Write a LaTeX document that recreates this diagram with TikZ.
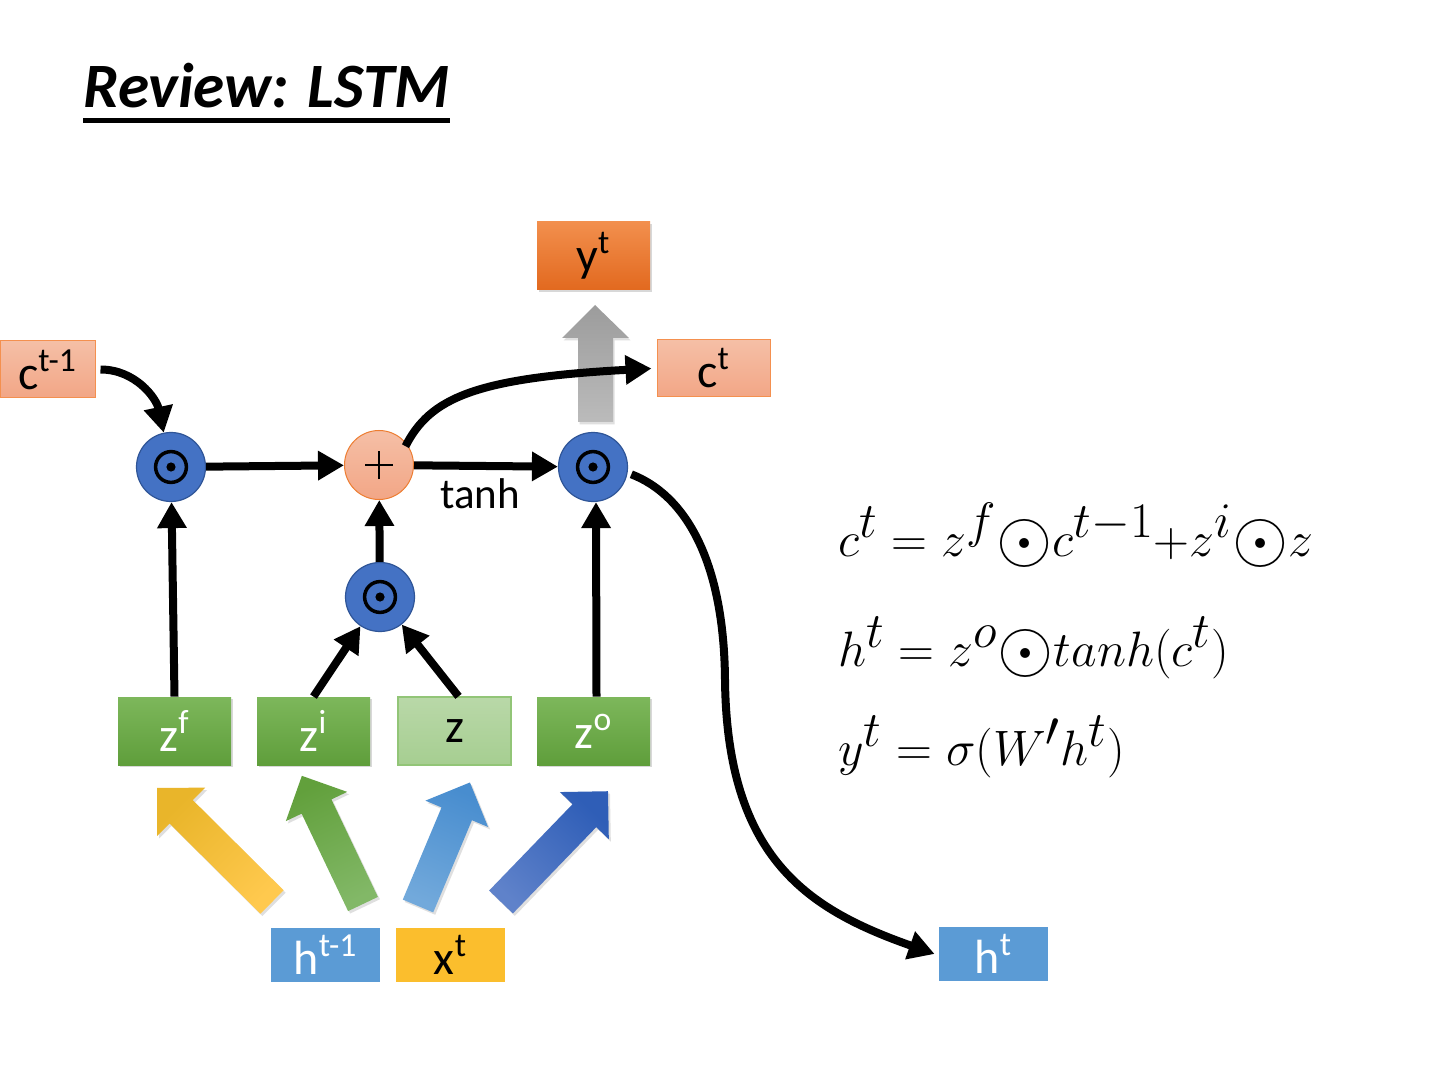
\documentclass[tikz,border=0pt]{standalone}
\usepackage{fontspec}
\setmainfont{Carlito}
\usetikzlibrary{arrows.meta,shadows,calc}
\definecolor{gTop}{HTML}{7DB75B}
\definecolor{gBot}{HTML}{5F9E3B}
\definecolor{zTop}{HTML}{B9D8A8}
\definecolor{zBot}{HTML}{A6CE91}
\definecolor{zBord}{HTML}{92C577}
\definecolor{sTop}{HTML}{F5BFA6}
\definecolor{sBot}{HTML}{F2A686}
\definecolor{sBord}{HTML}{F4904F}
\definecolor{oTop}{HTML}{F28F4D}
\definecolor{oBot}{HTML}{E2691F}
\definecolor{cBlue}{HTML}{4472C4}
\definecolor{cBord}{HTML}{2F5597}
\definecolor{pBord}{HTML}{ED7D31}
\definecolor{hBlue}{HTML}{5B9BD5}
\definecolor{xYel}{HTML}{FBBE2D}
\definecolor{yTip}{HTML}{E9B52A}
\definecolor{yTail}{HTML}{FFC94E}
\definecolor{grTip}{HTML}{62A03C}
\definecolor{grTail}{HTML}{82B867}
\definecolor{lbTip}{HTML}{488DCF}
\definecolor{lbTail}{HTML}{72A9DB}
\definecolor{dbTip}{HTML}{2F5EB7}
\definecolor{dbTail}{HTML}{5F82CA}
\definecolor{grayTip}{HTML}{9C9C9C}
\definecolor{grayTail}{HTML}{BBBBBB}
\newcommand{\bodot}{\mathord{\vcenter{\hbox{\scalebox{1.45}{$\odot$}}}}}
\newcommand{\blkarrow}[7]{%
  \begin{scope}[shift={(#1,#2)},rotate=#3]
    \path[top color=#5,bottom color=#6,shading angle={#3-90},draw=none,
      drop shadow={opacity=0.25,shadow xshift=1pt,shadow yshift=-1.2pt}]
      (0pt,-8.25pt) -- ({#4-#7},-8.25pt) -- ({#4-#7},-17pt) -- (#4,0pt)
      -- ({#4-#7},17pt) -- ({#4-#7},8.25pt) -- (0pt,8.25pt) -- cycle;
  \end{scope}}
\begin{document}
\begin{tikzpicture}[x=0.5pt,y=-0.5pt,
  lbl/.style={font=\fontsize{24}{24}\selectfont},
  box/.style={rectangle,inner sep=0pt,lbl},
  gate/.style={box,minimum width=56.5pt,minimum height=34pt,top color=gTop,bottom color=gBot,text=white,
     drop shadow={opacity=0.3,shadow xshift=0.8pt,shadow yshift=-1.2pt}},
  zbox/.style={box,minimum width=56.5pt,minimum height=34pt,top color=zTop,bottom color=zBot,draw=zBord,line width=0.6pt,text=black},
  cbox/.style={box,minimum height=28.5pt,top color=sTop,bottom color=sBot,draw=sBord,line width=0.5pt,text=black},
  ybox/.style={box,minimum width=56.5pt,minimum height=34pt,top color=oTop,bottom color=oBot,text=black,
     drop shadow={opacity=0.3,shadow xshift=0.8pt,shadow yshift=-1.2pt}},
  inbox/.style={box,minimum width=54.5pt,minimum height=27pt},
  circ/.style={circle,minimum size=34.5pt,inner sep=0pt},
  odotc/.style={circ,fill=cBlue,draw=cBord,line width=0.6pt,
     path picture={\draw[draw=black,line width=1.75pt] (path picture bounding box.center) circle[radius=7.7pt];
                   \fill[fill=black] (path picture bounding box.center) circle[radius=2.3pt];}},
  plusc/.style={circ,top color=sTop,bottom color=sBot,draw=pBord,line width=0.5pt,
     path picture={\draw[draw=black,line width=0.8pt] ([xshift=-7pt]path picture bounding box.center) -- ([xshift=7pt]path picture bounding box.center);
                   \draw[draw=black,line width=0.8pt] ([yshift=-7pt]path picture bounding box.center) -- ([yshift=7pt]path picture bounding box.center);}},
  conn/.style={line width=4pt,-{Triangle[length=13pt,width=14pt]}},
  eq/.style={anchor=base west,inner sep=0pt,font=\fontsize{37}{37}\selectfont}
]
\fill[white] (0,0) rectangle (1440,1080);
\useasboundingbox (0,0) rectangle (1440,1080);

% title
\node[anchor=base west,inner sep=0pt,font=\fontsize{31.6}{36}\selectfont\bfseries\itshape] (title) at (83,108) {Review: LSTM};
\draw[line width=2.5pt] ([yshift=-6.5pt]title.base west) -- ([yshift=-6.5pt]title.base east);

% block arrows (decorative)
\blkarrow{272}{902}{135.2}{81pt}{yTip}{yTail}{17pt}
\blkarrow{363}{904}{115.5}{71pt}{grTip}{grTail}{17pt}
\blkarrow{418}{906}{67.2}{67pt}{lbTip}{lbTail}{17pt}
\blkarrow{501}{902}{46}{77pt}{dbTip}{dbTail}{17pt}

% gray output arrow
\path[top color=grayTip,bottom color=grayTail,
      drop shadow={opacity=0.25,shadow xshift=0.8pt,shadow yshift=-1.2pt}]
  (578,422) -- (578,338) -- (562,338) -- (595,305) -- (629,338) -- (613,338) -- (613,422) -- cycle;

% nodes
\node[gate] (zf) at (174.5,731) {z\textsuperscript{f}};
\node[gate] (zi) at (313.5,731) {z\textsuperscript{i}};
\node[zbox] (z) at (454.5,731) {z};
\node[gate] (zo) at (593.5,731) {z\textsuperscript{o}};

\node[odotc] (lf) at (171,467) {};
\node[plusc] (pl) at (379,465) {};
\node[odotc] (ro) at (593,467) {};
\node[odotc] (mid) at (380,597) {};

\node[cbox,minimum width=47.5pt] (cprev) at (47.5,369.5) {c\textsuperscript{t-1}};
\node[cbox,minimum width=56.5pt] (ct) at (713.5,368.5) {c\textsuperscript{t}};
\node[ybox] (yt) at (593.5,256) {y\textsuperscript{t}};

\node[inbox,fill=hBlue,text=white] (hprev) at (325.5,955) {h\textsuperscript{t-1}};
\node[inbox,fill=xYel,text=black] (xt) at (450.5,955) {x\textsuperscript{t}};
\node[inbox,fill=hBlue,text=white] (ht) at (993.5,954) {h\textsuperscript{t}};

\node[anchor=base west,inner sep=0pt,font=\fontsize{21.5}{24}\selectfont] (tanh) at (440,509) {tanh};

% connectors
\draw[conn] ([xshift=2.5pt]cprev.east) to[out=0,in=102] (lf);
\draw[conn] (lf) -- (pl);
\draw[conn] (pl) -- (ro);
\draw[conn] (zf.north) -- (lf);
\draw[conn] (zi.north) -- (mid);
\draw[conn] ([xshift=2pt]z.north) -- (mid);
\draw[conn] (mid) -- (pl);
\draw[conn] ([xshift=1.5pt]zo.north) -- ([xshift=1.5pt]ro.south);
\draw[conn] ([shift={(2pt,-4pt)}]pl.50) .. controls (430,398) and (475,378) .. ([xshift=-2.5pt]ct.west);
\draw[conn] ([xshift=2pt]ro.-12) .. controls (685,495) and (724,560) .. (725,680)
   .. controls (727,860) and (810,910) .. ([xshift=-2pt]ht.west);

% equations
\node[eq] (eq1) at (838,556) {$c^t = z^f\bodot c^{t-1}{+}z^i\bodot z$};
\node[eq] (eq2) at (838,666) {$h^t = z^o\bodot tanh(c^t)$};
\node[eq] (eq3) at (838,765) {$y^t = \sigma(W'h^t)$};
\end{tikzpicture}
\end{document}
